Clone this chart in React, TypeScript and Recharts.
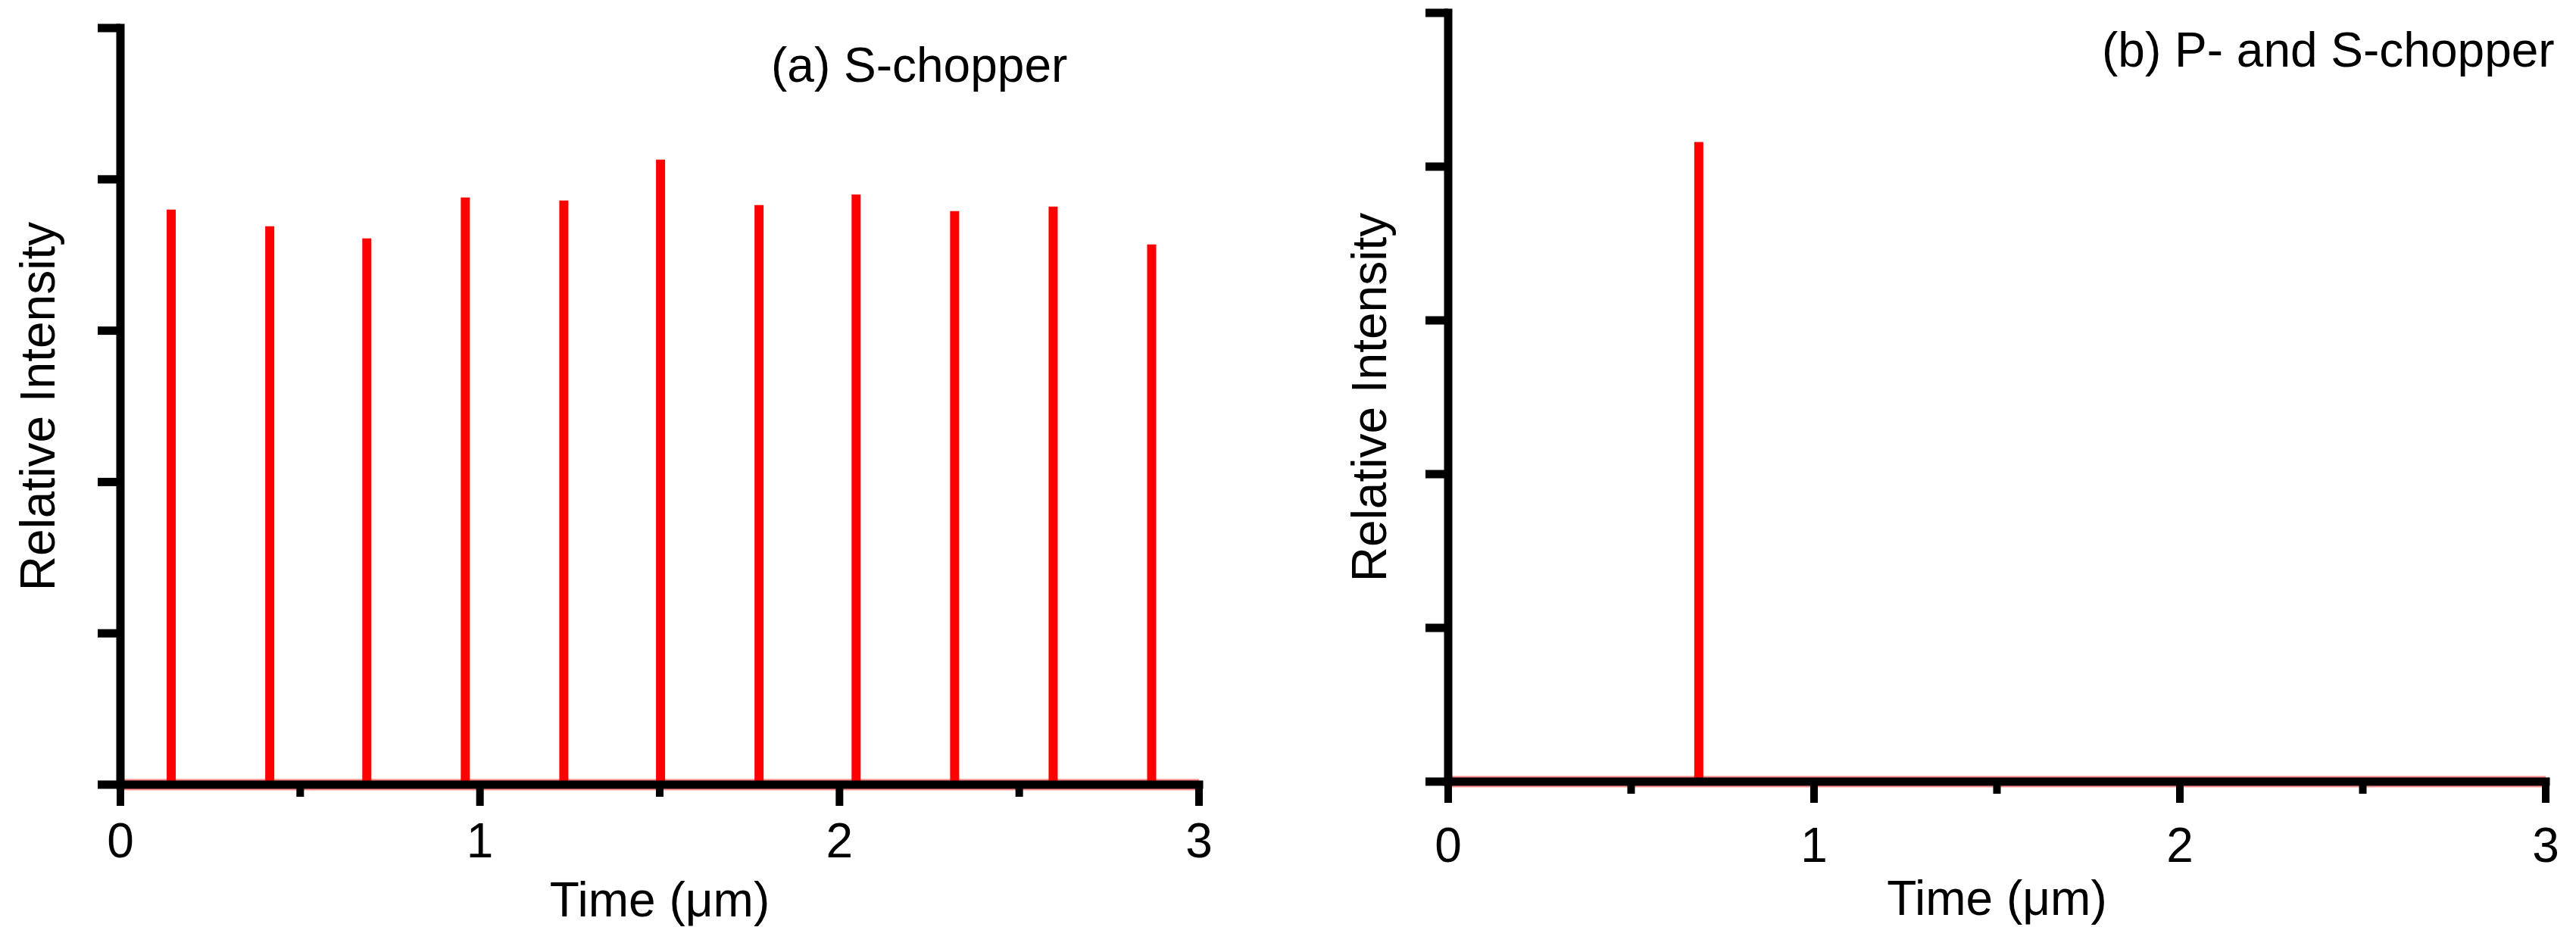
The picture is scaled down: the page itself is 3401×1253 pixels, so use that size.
import { ComposedChart, Bar, XAxis, YAxis, Label, ReferenceLine } from 'recharts';

// peak positions (time, µm) and heights
const sChopperTimes = [0.141, 0.415, 0.685, 0.959, 1.233, 1.502, 1.776, 2.046, 2.32, 2.594, 2.868];
const sChopperIntensity = [3.8, 3.69, 3.61, 3.88, 3.86, 4.13, 3.83, 3.9, 3.79, 3.82, 3.57];
const psChopperTimes = [0.685];
const psChopperIntensity = [4.16];

const xTicks = [0, 0.5, 1, 1.5, 2, 2.5, 3];
const yTicks = [0, 1, 2, 3, 4, 5];
const panelTitles = ['(a) S-chopper', '(b) P- and S-chopper'];
const xLabel = 'Time (\u03bcm)';
const yLabel = 'Relative Intensity';

const FONT = "'Liberation Sans', Arial, Helvetica, sans-serif";
const RED = '#ff0000';
const AXIS = { stroke: '#000', strokeWidth: 11, strokeLinecap: 'square' as const };

const toRows = (times: number[], values: number[]) =>
  times.map((t, i) => ({ time: t, intensity: values[i] }));

type PanelProps = {
  data: { time: number; intensity: number }[];
  title: string;
  left: number;
  width: number;
  margin: { top: number; right: number; bottom: number; left: number };
  yAxisWidth: number;
  xAxisHeight: number;
  titleX: number;
  titleY: number;
  yLabelOffset: number;
  tickLabelDy: number;
};

const makeXTick = (labelDy: number) => (props: any) => {
  const { x, y, payload } = props;
  const major = Number.isInteger(payload.value);
  return (
    <g>
      <line x1={x} y1={y} x2={x} y2={y + (major ? 28 : 16)} stroke="#000" strokeWidth={10} />
      {major && (
        <text x={x} y={y + labelDy} textAnchor="middle" fontSize={64} fontFamily={FONT} fill="#000">
          {payload.value}
        </text>
      )}
    </g>
  );
};

const noTick = () => <g />;

const Panel = (p: PanelProps) => (
  <div style={{ position: 'absolute', left: p.left, top: 0 }}>
    <ComposedChart width={p.width} height={1253} data={p.data} margin={p.margin}>
      <ReferenceLine y={0} stroke={RED} strokeWidth={15} strokeOpacity={0.45} />
      <Bar dataKey="intensity" fill={RED} barSize={12} isAnimationActive={false} />
      <XAxis
        dataKey="time"
        type="number"
        domain={[0, 3]}
        ticks={xTicks}
        interval={0}
        height={p.xAxisHeight}
        axisLine={AXIS}
        tickLine={false}
        tickSize={0}
        tickMargin={0}
        tick={makeXTick(p.tickLabelDy)}
      >
        <Label value={xLabel} position="insideBottom" offset={0} fontSize={64} fontFamily={FONT} fill="#000" />
      </XAxis>
      <YAxis
        type="number"
        domain={[0, 5]}
        ticks={yTicks}
        interval={0}
        width={p.yAxisWidth}
        axisLine={AXIS}
        tickLine={{ stroke: '#000', strokeWidth: 11 }}
        tickSize={30}
        tick={noTick}
      >
        <Label
          value={yLabel}
          angle={-90}
          position="insideLeft"
          offset={p.yLabelOffset}
          fontSize={64}
          fontFamily={FONT}
          fill="#000"
          style={{ textAnchor: 'middle' }}
        />
      </YAxis>
      <text x={p.titleX} y={p.titleY} fontSize={64} fontFamily={FONT} fill="#000">
        {p.title}
      </text>
    </ComposedChart>
  </div>
);

export default function App() {
  return (
    <div style={{ position: 'absolute', left: 0, top: 0, width: 3401, height: 1253, background: '#fff' }}>
      <Panel
        data={toRows(sChopperTimes, sChopperIntensity)}
        title={panelTitles[0]}
        left={0}
        width={1700}
        margin={{ top: 37, right: 117, bottom: 43, left: 0 }}
        yAxisWidth={159}
        xAxisHeight={174}
        titleX={1018}
        titleY={108}
        yLabelOffset={49}
        tickLabelDy={96}
      />
      <Panel
        data={toRows(psChopperTimes, psChopperIntensity)}
        title={panelTitles[1]}
        left={1700}
        width={1701}
        margin={{ top: 17, right: 40, bottom: 45, left: 0 }}
        yAxisWidth={212}
        xAxisHeight={176}
        titleX={1075}
        titleY={88}
        yLabelOffset={107}
        tickLabelDy={106}
      />
    </div>
  );
}
